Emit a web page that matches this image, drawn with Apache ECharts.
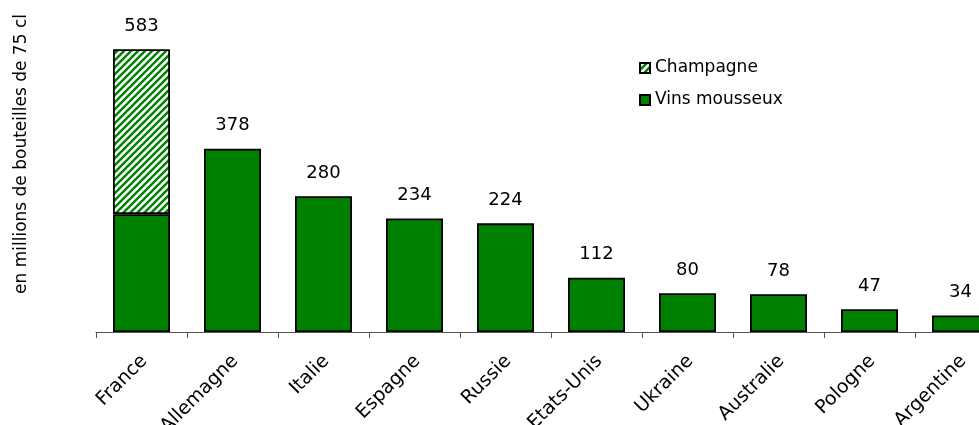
<!DOCTYPE html>
<html>
<head>
<meta charset="utf-8">
<script src="https://cdn.jsdelivr.net/npm/echarts@6/dist/echarts.min.js"></script>
<style>
  html, body { margin: 0; padding: 0; background: #fff; overflow: hidden; }
  #chart { width: 1010px; height: 425px; }
</style>
</head>
<body>
<div id="chart"></div>
<script>
const countries = ['France', 'Allemagne', 'Italie', 'Espagne', 'Russie', 'Etats-Unis', 'Ukraine', 'Australie', 'Pologne', 'Argentine'];
const vinsMousseux = [243, 378, 280, 234, 224, 112, 80, 78, 47, 34];
const champagne = [340, null, null, null, null, null, null, null, null, null];
const totals = [583, 378, 280, 234, 224, 112, 80, 78, 47, 34];

const FONT = 'DejaVu Sans, Verdana, sans-serif';

// hatch pattern for the champagne part
function makeHatch() {
  const s = 7;
  const c = document.createElement('canvas');
  c.width = s;
  c.height = s;
  const ctx = c.getContext('2d');
  ctx.fillStyle = '#ffffff';
  ctx.fillRect(0, 0, s, s);
  ctx.strokeStyle = '#008000';
  ctx.lineWidth = 2.4;
  ctx.beginPath();
  ctx.moveTo(-s, s * 2); ctx.lineTo(s * 2, -s);
  ctx.moveTo(-s, s); ctx.lineTo(s, -s);
  ctx.moveTo(0, s * 2); ctx.lineTo(s * 2, 0);
  ctx.stroke();
  return c;
}
const hatch = { image: makeHatch(), repeat: 'repeat' };

const chart = echarts.init(document.getElementById('chart'));

const labelStyle = {
  show: true,
  position: 'top',
  distance: 14,
  fontFamily: FONT,
  fontSize: 18,
  color: '#000'
};

chart.setOption({
  animation: false,
  grid: { left: 96, right: 4, top: 41, bottom: 93, outerBoundsMode: 'none', containLabel: false },
  legend: {
    orient: 'vertical',
    left: 634,
    top: 53,
    itemWidth: 10,
    itemHeight: 10,
    itemGap: 12,
    icon: 'rect',
    textStyle: { fontFamily: FONT, fontSize: 17, lineHeight: 20, color: '#000' },
    data: ['Champagne', 'Vins mousseux']
  },
  graphic: [{
    type: 'text',
    x: 22,
    y: 154,
    rotation: Math.PI / 2,
    style: {
      text: 'en millions de bouteilles de 75 cl',
      fontFamily: FONT,
      fontSize: 17,
      fill: '#000',
      align: 'center',
      verticalAlign: 'middle'
    }
  }],
  xAxis: {
    type: 'category',
    data: countries,
    axisLine: { lineStyle: { color: '#555', width: 1 } },
    axisTick: { show: true, length: 6, lineStyle: { color: '#555' } },
    axisLabel: {
      interval: 0,
      rotate: 45,
      margin: 29,
      padding: [0, -4, 0, 0],
      fontFamily: FONT,
      fontSize: 19,
      color: '#000'
    }
  },
  yAxis: {
    type: 'value',
    min: 0,
    max: 600,
    show: false,
    splitLine: { show: false }
  },
  series: [
    {
      name: 'Vins mousseux',
      type: 'bar',
      stack: 'total',
      barWidth: 57,
      itemStyle: { color: '#008000', borderColor: '#000', borderWidth: 1.8 },
      label: Object.assign({}, labelStyle, {
        formatter: (p) => (p.dataIndex === 0 ? '' : String(totals[p.dataIndex]))
      }),
      data: vinsMousseux
    },
    {
      name: 'Champagne',
      type: 'bar',
      stack: 'total',
      barWidth: 57,
      itemStyle: { color: hatch, borderColor: '#000', borderWidth: 1.8 },
      label: Object.assign({}, labelStyle, {
        formatter: (p) => String(totals[p.dataIndex])
      }),
      data: champagne
    }
  ]
});
</script>
</body>
</html>
